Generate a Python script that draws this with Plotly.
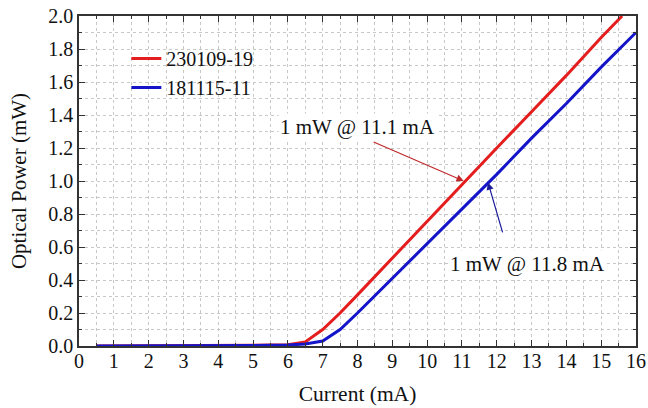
import plotly.graph_objects as go

# Data
current_red = [0.5, 1, 2, 3, 4, 5, 6, 6.5, 7, 7.5, 8, 9, 10, 11, 12, 13, 14, 15, 15.6]
power_red = [0.0, 0.0, 0.0, 0.0, 0.002, 0.004, 0.008, 0.025, 0.1, 0.2, 0.31, 0.534, 0.756, 0.978, 1.2, 1.42, 1.64, 1.87, 2.0]

current_blue = [0.5, 1, 2, 3, 4, 5, 6, 6.5, 7, 7.5, 8, 9, 10, 11, 12, 13, 14, 15, 16]
power_blue = [0.0, 0.0, 0.0, 0.0, 0.001, 0.003, 0.006, 0.012, 0.03, 0.1, 0.2, 0.41, 0.62, 0.83, 1.04, 1.26, 1.47, 1.69, 1.9]

series_names = ["230109-19", "181115-11"]
x_ticks = list(range(0, 17))
y_ticks = [0.0, 0.2, 0.4, 0.6, 0.8, 1.0, 1.2, 1.4, 1.6, 1.8, 2.0]

RED = "#e41e1e"
BLUE = "#1414c8"
FONT = "Liberation Serif, Times New Roman, serif"
TXT = "#111111"

fig = go.Figure()
fig.add_trace(go.Scatter(x=current_red, y=power_red, mode="lines", name=series_names[0],
                         line=dict(color=RED, width=3)))
fig.add_trace(go.Scatter(x=current_blue, y=power_blue, mode="lines", name=series_names[1],
                         line=dict(color=BLUE, width=3)))

grid_col = "#c8c8c8"
axis_common = dict(
    showline=True, linecolor="#333333", linewidth=1.5, mirror="ticks",
    ticks="inside", ticklen=6, tickwidth=1.2, tickcolor="#333333",
    showgrid=True, gridcolor=grid_col, griddash="dot", gridwidth=1,
    zeroline=False, automargin=False,
    tickfont=dict(family=FONT, size=20, color=TXT),
)

fig.update_xaxes(
    range=[0, 16], tickvals=x_ticks, ticktext=[str(v) for v in x_ticks],
    title=dict(text="Current (mA)", font=dict(family=FONT, size=21.5, color=TXT), standoff=15),
    minor=dict(dtick=0.5, ticks="inside", ticklen=3, tickcolor="#333333",
               showgrid=True, gridcolor=grid_col, griddash="dot", gridwidth=1),
    ticklabelstandoff=-4,
    **axis_common,
)
fig.update_yaxes(
    range=[0, 2.0], tickvals=y_ticks, ticktext=[f"{v:.1f}" for v in y_ticks],
    title=dict(text="Optical Power (mW)", font=dict(family=FONT, size=21, color=TXT), standoff=16),
    minor=dict(dtick=0.1, ticks="inside", ticklen=3, tickcolor="#333333",
               showgrid=True, gridcolor=grid_col, griddash="dot", gridwidth=1),
    **axis_common,
)

fig.add_annotation(x=11.05, y=1.0, ax=8.42, ay=1.24, xref="x", yref="y", axref="x", ayref="y",
                   showarrow=True, arrowhead=2, arrowsize=1.2, arrowwidth=1.2, arrowcolor="#c0282a",
                   text="")
fig.add_annotation(x=11.75, y=0.99, ax=12.18, ay=0.68, xref="x", yref="y", axref="x", ayref="y",
                   showarrow=True, arrowhead=2, arrowsize=1.2, arrowwidth=1.2, arrowcolor="#1a1a9a",
                   text="")
fig.add_annotation(x=8.0, y=1.33, xref="x", yref="y", text="1 mW @ 11.1 mA", showarrow=False,
                   font=dict(family=FONT, size=21, color=TXT), bgcolor="white")
fig.add_annotation(x=12.87, y=0.5, xref="x", yref="y", text="1 mW @ 11.8 mA", showarrow=False,
                   font=dict(family=FONT, size=21, color=TXT), bgcolor="white")

fig.update_layout(
    width=648, height=408,
    margin=dict(l=79, r=12, t=16, b=62),
    paper_bgcolor="white", plot_bgcolor="white",
    showlegend=True,
    legend=dict(x=0.085, y=0.93, xanchor="left", yanchor="top", bgcolor="rgba(0,0,0,0)",
                font=dict(family=FONT, size=20, color=TXT), tracegroupgap=0),
)

# remove the default 8px page margin so the figure fills the 648x408 window exactly
fig.write_html("out.html", config={"displayModeBar": False},
               post_script="document.body.style.margin='0px';")
